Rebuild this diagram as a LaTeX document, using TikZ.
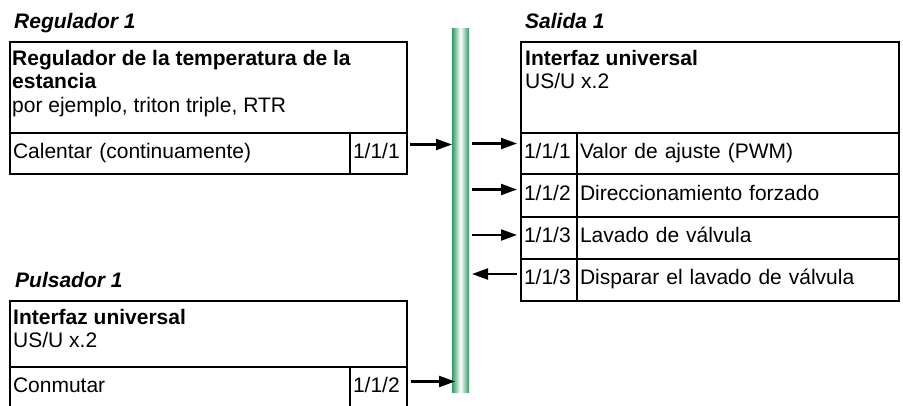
\documentclass[tikz,border=0pt]{standalone}
\usepackage{fontspec}
\setmainfont{Liberation Sans}
\usetikzlibrary{arrows.meta}
\definecolor{busgreen}{RGB}{50,152,100}
\tikzset{
  box/.style={draw, line width=2.2pt, inner sep=0pt, outer sep=0pt, anchor=north west},
  cell/.style 2 args={box, inner xsep=3pt, text width=#1, minimum height=#2, align=left,
    text height=14pt, text depth=5pt},
  head/.style={anchor=north west, inner sep=0pt, align=left},
  title/.style={anchor=base west, inner sep=0pt, font=\bfseries\itshape},
  sig/.style={line width=2.2pt, -{Triangle[length=16pt,width=11pt]}},
  bus/.style={anchor=north west, inner sep=0pt, outer sep=0pt, minimum width=17pt, minimum height=364pt,
    left color=busgreen, right color=busgreen, middle color=white}
}
\begin{document}
\fontsize{21}{23.5}\selectfont
\begin{tikzpicture}[x=1pt,y=-1pt]
    \useasboundingbox (0,0) rectangle (903,405);
    \node[bus] (bus) at (452,28) {};
    % Regulador 1
    \node[title] (r1title) at (14,28) {Regulador 1};
    \node[box,minimum width=397pt,minimum height=91pt] (r1head) at (10,42) {};
    \node[head] (r1htxt) at (12,50) {\textbf{Regulador de la temperatura de la}\\\textbf{estancia}\\por ejemplo, triton triple, RTR};
    \node[cell={334pt}{41pt}] (r1txt) at (10,133) {Calentar (continuamente)};
    \node[cell={51pt}{41pt}] (r1num) at (350,133) {1/1/1};
    % Pulsador 1
    \node[title] (p1title) at (15,287) {Pulsador 1};
    \node[box,minimum width=397pt,minimum height=66pt] (p1head) at (10,301) {};
    \node[head] (p1htxt) at (13,309) {\textbf{Interfaz universal}\\US/U x.2};
    \node[cell={334pt}{41pt}] (p1txt) at (10,367) {Conmutar};
    \node[cell={51pt}{41pt}] (p1num) at (350,367) {1/1/2};
    % Salida 1
    \node[title] (s1title) at (525,28) {Salida 1};
    \node[box,minimum width=378pt,minimum height=91pt] (s1head) at (521,42) {};
    \node[head] (s1htxt) at (525,50) {\textbf{Interfaz universal}\\US/U x.2};
    \node[cell={50pt}{41pt}] (s1n1) at (521,133) {1/1/1};
    \node[cell={316pt}{41pt}] (s1t1) at (577,133) {Valor de ajuste (PWM)};
    \node[cell={50pt}{43pt}] (s1n2) at (521,174) {1/1/2};
    \node[cell={316pt}{43pt}] (s1t2) at (577,174) {Direccionamiento forzado};
    \node[cell={50pt}{42pt}] (s1n3) at (521,217) {1/1/3};
    \node[cell={316pt}{42pt}] (s1t3) at (577,217) {Lavado de válvula};
    \node[cell={50pt}{42pt}] (s1n4) at (521,259) {1/1/3};
    \node[cell={316pt}{42pt}] (s1t4) at (577,259) {Disparar el lavado de válvula};
    % telegramas
    \coordinate (a1) at ([shift={(3pt,9pt)}]r1num.east);
    \coordinate (a2) at ([shift={(4pt,6pt)}]p1num.east);
    \coordinate (b1) at ([shift={(-4pt,10pt)}]s1n1.west);
    \coordinate (b2) at ([shift={(-4pt,6pt)}]s1n2.west);
    \coordinate (b3) at ([shift={(-4pt,3pt)}]s1n3.west);
    \coordinate (b4) at ([shift={(-4pt,6pt)}]s1n4.west);
    \draw[sig] (a1) -- (bus.west |- a1);
    \draw[sig,shorten >=-3pt] (a2) -- (bus.west |- a2);
    \draw[sig,shorten <=3pt] (bus.east |- b1) -- (b1);
    \draw[sig,shorten <=3pt] (bus.east |- b2) -- (b2);
    \draw[sig,shorten <=3pt] (bus.east |- b3) -- (b3);
    \draw[sig,shorten >=3pt] (b4) -- (bus.east |- b4);
\end{tikzpicture}
\end{document}
